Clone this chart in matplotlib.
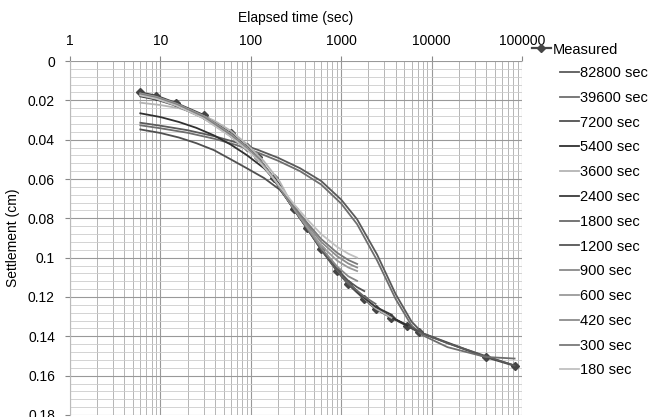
import numpy as np
import matplotlib.pyplot as plt
from matplotlib.ticker import LogLocator, MultipleLocator, NullFormatter

plt.rcParams['font.family'] = ['Liberation Sans', 'DejaVu Sans']
plt.rcParams['font.size'] = 10

# measured settlement
t_meas = [6, 9, 15, 30, 60, 90, 120, 180, 300, 420, 600, 900, 1200, 1800, 2400, 3600, 5400, 7200, 39600, 82800]
s_meas = [0.016, 0.0177, 0.0215, 0.0275, 0.0368, 0.0436, 0.049, 0.0597, 0.0753, 0.0851, 0.0958, 0.1067,
          0.1135, 0.121, 0.126, 0.1305, 0.1347, 0.1378, 0.1505, 0.1549]

# fitted curves
t_long = [6, 10, 20, 40, 70, 120, 200, 350, 600, 1000, 1500, 2500, 4000, 6000, 8000, 15000, 39600, 82800]
s_82800 = [0.0314, 0.0329, 0.0352, 0.0383, 0.0415, 0.0452, 0.0492, 0.0545, 0.061, 0.0705, 0.0805, 0.0985,
           0.1185, 0.1325, 0.1385, 0.1435, 0.150, 0.1549]
s_39600 = [0.0327, 0.0342, 0.0365, 0.0396, 0.0428, 0.0466, 0.0507, 0.056, 0.0628, 0.0725, 0.083, 0.1015,
           0.121, 0.1345, 0.1395, 0.1455, 0.1505, 0.1513]

t_mid = [6, 10, 16, 25, 39, 60, 90, 140, 210, 300, 420, 600, 900, 1200, 1800, 2400, 3600, 5400, 7200]
s_7200 = [0.0348, 0.0366, 0.0389, 0.0418, 0.0453, 0.050, 0.0545, 0.0595, 0.0655, 0.0745, 0.0848, 0.0955,
          0.1058, 0.1128, 0.1205, 0.1255, 0.1303, 0.1345, 0.1375]
s_5400 = [0.0266, 0.0285, 0.031, 0.034, 0.0378, 0.0425, 0.0478, 0.0545, 0.063, 0.0745, 0.0848, 0.0955,
          0.1058, 0.1128, 0.1205, 0.1255, 0.1303, 0.1345]
s_3600 = [0.0212, 0.0224, 0.024, 0.0265, 0.0302, 0.0355, 0.0422, 0.051, 0.0615, 0.0748, 0.0849, 0.0956,
          0.106, 0.1132, 0.1207, 0.1258, 0.1306]

t_short = [6, 9, 15, 30, 60, 90, 120, 180, 300, 420, 600, 900, 1200, 1500, 1800, 2400, 3600]
s_2400 = [0.018, 0.0196, 0.0228, 0.029, 0.0381, 0.0447, 0.05, 0.0604, 0.0755, 0.085, 0.0955, 0.1062,
          0.113, 0.1175, 0.1205, 0.125, 0.129]
s_1800 = [0.0172, 0.0188, 0.0222, 0.0284, 0.0375, 0.0442, 0.0496, 0.06, 0.0754, 0.0851, 0.0957, 0.1063,
          0.1128, 0.1168, 0.1198, 0.1235]
s_1200 = [0.0168, 0.0184, 0.0219, 0.028, 0.0372, 0.044, 0.0494, 0.0599, 0.0753, 0.085, 0.0955, 0.1058,
          0.1118, 0.115, 0.117]
s_900 = [0.0165, 0.0182, 0.0217, 0.0279, 0.0371, 0.0439, 0.0493, 0.0598, 0.0752, 0.0848, 0.095, 0.1045,
         0.1095, 0.1118]
s_600 = [0.0166, 0.0183, 0.0218, 0.028, 0.0372, 0.044, 0.0494, 0.0599, 0.075, 0.0843, 0.0938, 0.1015,
         0.105, 0.1068]
s_420 = [0.0168, 0.0185, 0.022, 0.0283, 0.0376, 0.0443, 0.0497, 0.06, 0.0745, 0.0832, 0.092, 0.0992,
         0.103, 0.105]
s_300 = [0.017, 0.0188, 0.0223, 0.0287, 0.038, 0.0447, 0.05, 0.0601, 0.074, 0.0822, 0.0905, 0.0975,
         0.1012, 0.1032]
s_180 = [0.0175, 0.0192, 0.0227, 0.0292, 0.0385, 0.045, 0.0503, 0.06, 0.0728, 0.0805, 0.088, 0.0945,
         0.098, 0.1]

fit_labels = ['82800 sec', '39600 sec', '7200 sec', '5400 sec', '3600 sec', '2400 sec', '1800 sec',
              '1200 sec', '900 sec', '600 sec', '420 sec', '300 sec', '180 sec']
fit_t = [t_long, t_long, t_mid, t_mid, t_mid, t_short, t_short, t_short, t_short, t_short, t_short,
         t_short, t_short]
fit_s = [s_82800, s_39600, s_7200, s_5400, s_3600, s_2400, s_1800, s_1200, s_900, s_600, s_420,
         s_300, s_180]
fit_colors = ['#5a5a5a', '#6e6e6e', '#505050', '#303030', '#b4b4b4', '#3a3a3a', '#6a6a6a',
              '#555555', '#8a8a8a', '#9a9a9a', '#8c8c8c', '#7a7a7a', '#c0c0c0']

xticks = [1, 10, 100, 1000, 10000, 100000]
xticklabels = ['1', '10', '100', '1000', '10000', '100000']
yticks = [0, 0.02, 0.04, 0.06, 0.08, 0.1, 0.12, 0.14, 0.16, 0.18]
yticklabels = ['0', '0.02', '0.04', '0.06', '0.08', '0.1', '0.12', '0.14', '0.16', '0.18']

fig = plt.figure(figsize=(6.49, 4.17), dpi=100)
ax = fig.add_axes([70 / 649, 2 / 417, 452 / 649, 354 / 417])

meas_line, = ax.plot(t_meas, s_meas, color='#454545', lw=1.6, marker='D', ms=4, zorder=3)
fit_lines = []
for tt, ss, c in zip(fit_t, fit_s, fit_colors):
    l, = ax.plot(tt[:len(ss)], ss, color=c, lw=1.3, zorder=4)
    fit_lines.append(l)

ax.set_xscale('log')
ax.set_xlim(1, 100000)
ax.set_ylim(0.18, 0)
ax.xaxis.tick_top()
ax.xaxis.set_label_position('top')
ax.set_xticks(xticks)
ax.set_xticklabels(xticklabels)
ax.xaxis.set_minor_locator(LogLocator(base=10, subs=np.arange(2, 10)))
ax.xaxis.set_minor_formatter(NullFormatter())
ax.set_yticks(yticks)
ax.set_yticklabels(yticklabels)
ax.yaxis.set_minor_locator(MultipleLocator(0.004))

ax.tick_params(axis='x', which='major', length=3.6, pad=5.5, color='#888888', labelsize=10)
ax.tick_params(axis='y', which='major', length=3.6, pad=7.2, color='#888888', labelsize=10)
ax.tick_params(which='minor', length=0)

ax.grid(which='major', color='#999999', lw=0.8)
ax.grid(which='minor', axis='x', color='#aaaaaa', lw=0.6)
ax.grid(which='minor', axis='y', color='#cccccc', lw=0.6)
ax.set_axisbelow(True)
for sp in ax.spines.values():
    sp.set_visible(False)
ax.spines['left'].set_visible(True)
ax.spines['left'].set_color('#bbbbbb')

ax.set_xlabel('Elapsed time (sec)', labelpad=9, fontsize=10)
ax.set_ylabel('Settlement (cm)', labelpad=6, fontsize=10)

fig.legend([meas_line], ['Measured'], loc='upper left', bbox_to_anchor=(532 / 649, 1 - 42.5 / 417),
           frameon=False, fontsize=10.5, handlelength=1.3, handletextpad=0.1, borderaxespad=0,
           borderpad=0)
fig.legend(fit_lines, fit_labels, loc='upper left', bbox_to_anchor=(560 / 649, 1 - 66 / 417),
           frameon=False, fontsize=10.5, handlelength=1.3, handletextpad=0.1, labelspacing=0.74,
           borderaxespad=0, borderpad=0)

fig.savefig('out.png', dpi=100)
